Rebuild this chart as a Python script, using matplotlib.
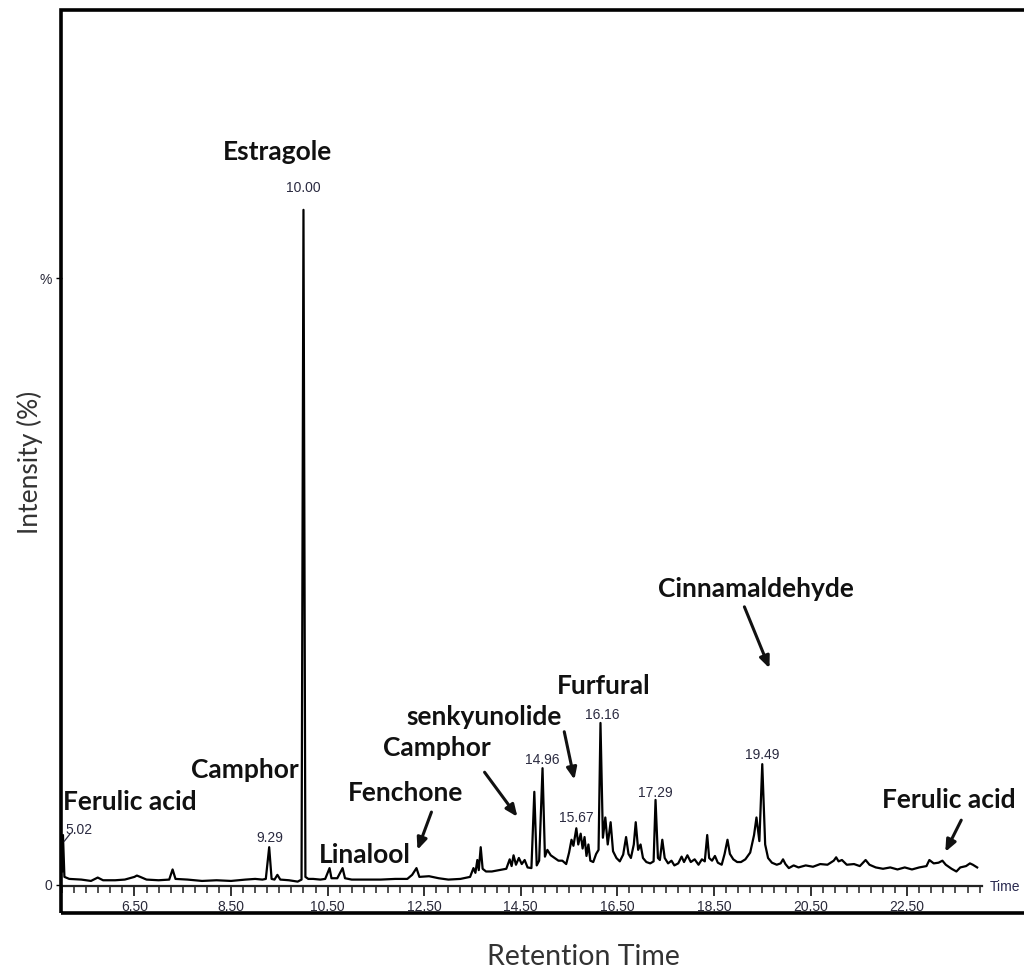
import matplotlib
matplotlib.use("Agg")
import matplotlib.pyplot as plt
from matplotlib.patches import Rectangle
from matplotlib.ticker import MultipleLocator, FixedLocator

# ---------------- data ----------------
time_min = [5.00, 5.02, 5.05, 5.15, 5.40, 5.60, 5.74, 5.85, 6.10, 6.30, 6.50, 6.55, 6.62, 6.75,
            7.00, 7.22, 7.29, 7.35, 7.60, 7.90, 8.20, 8.50, 8.80, 9.00, 9.15, 9.22, 9.29, 9.34,
            9.40, 9.46, 9.52, 9.70, 9.88, 9.96, 10.00, 10.04, 10.10, 10.20, 10.35, 10.45, 10.54,
            10.58, 10.70, 10.81, 10.86, 11.00, 11.30, 11.60, 11.90, 12.15, 12.25, 12.34, 12.40,
            12.60, 12.80, 13.00, 13.25, 13.45, 13.52, 13.56, 13.60, 13.63, 13.67, 13.71, 13.78,
            13.90, 14.05, 14.20, 14.27, 14.31, 14.35, 14.40, 14.46, 14.52, 14.58, 14.64, 14.72,
            14.78, 14.83, 14.88, 14.95, 15.00, 15.05, 15.12, 15.20, 15.28, 15.36, 15.44, 15.50,
            15.55, 15.59, 15.65, 15.69, 15.74, 15.78, 15.82, 15.86, 15.90, 15.94, 16.00, 16.06,
            16.11, 16.15, 16.20, 16.25, 16.30, 16.36, 16.41, 16.48, 16.55, 16.62, 16.68, 16.73,
            16.78, 16.84, 16.88, 16.93, 16.98, 17.03, 17.10, 17.18, 17.25, 17.29, 17.34, 17.38,
            17.43, 17.48, 17.55, 17.62, 17.68, 17.76, 17.83, 17.88, 17.95, 18.02, 18.10, 18.18,
            18.25, 18.31, 18.36, 18.40, 18.46, 18.52, 18.58, 18.66, 18.72, 18.78, 18.83, 18.90,
            18.98, 19.06, 19.15, 19.25, 19.33, 19.38, 19.44, 19.50, 19.56, 19.62, 19.70, 19.80,
            19.88, 19.93, 19.98, 20.05, 20.15, 20.25, 20.40, 20.55, 20.70, 20.85, 20.98, 21.03,
            21.08, 21.15, 21.25, 21.40, 21.52, 21.64, 21.72, 21.85, 22.00, 22.15, 22.30, 22.45,
            22.60, 22.75, 22.90, 22.96, 23.05, 23.15, 23.23, 23.30, 23.42, 23.52, 23.60, 23.72,
            23.80, 23.86, 23.95]
intensity_pct = [2.0, 7.4, 1.2, 0.9, 0.8, 0.6, 1.1, 0.7, 0.7, 0.8, 1.2, 1.4, 1.2, 0.8,
                 0.7, 0.8, 2.3, 0.9, 0.8, 0.6, 0.7, 0.6, 0.8, 0.9, 0.8, 0.9, 5.6, 0.9,
                 0.8, 1.5, 0.8, 0.7, 0.5, 0.8, 100.0, 1.2, 0.9, 0.9, 0.8, 0.9, 2.5,
                 1.0, 1.0, 2.5, 1.0, 0.8, 0.8, 0.8, 0.9, 0.9, 1.5, 2.5, 1.2,
                 1.3, 1.0, 0.8, 0.9, 1.2, 2.5, 1.8, 3.7, 2.2, 5.6, 2.4, 2.0,
                 2.0, 2.2, 2.4, 3.8, 2.8, 4.4, 3.0, 4.0, 3.1, 3.7, 2.6, 2.5,
                 13.8, 2.9, 3.6, 17.3, 4.2, 5.2, 4.4, 4.0, 3.6, 3.6, 3.1, 4.8,
                 6.7, 5.8, 8.4, 6.0, 7.6, 5.4, 7.1, 4.3, 6.0, 3.6, 3.4, 4.6,
                 5.2, 24.0, 7.0, 10.0, 6.0, 9.3, 5.0, 4.0, 3.5, 4.5, 7.1, 4.6,
                 4.0, 6.0, 9.3, 5.2, 6.0, 4.0, 3.4, 3.2, 3.5, 12.6, 4.0, 3.7,
                 6.7, 4.0, 3.2, 3.6, 2.9, 3.2, 4.2, 3.4, 4.4, 3.4, 3.8, 3.0,
                 3.8, 3.5, 7.4, 4.0, 3.6, 4.3, 3.3, 3.0, 4.6, 6.7, 4.6, 3.8,
                 3.4, 3.4, 3.8, 4.8, 7.4, 10.0, 6.5, 17.9, 6.0, 4.0, 3.3, 3.0,
                 3.2, 3.8, 3.1, 2.5, 2.9, 2.6, 2.9, 2.7, 3.1, 3.0, 3.6, 4.1,
                 3.5, 3.7, 3.0, 3.1, 2.8, 3.7, 3.0, 2.6, 2.4, 2.6, 2.3, 2.6,
                 2.3, 2.6, 2.8, 3.7, 3.2, 3.3, 3.6, 3.0, 2.4, 2.0, 2.6, 2.8,
                 3.2, 3.0, 2.6]

# retention-time labels printed above peaks
peak_rt_labels = ["5.02", "9.29", "10.00", "14.96", "15.67", "16.16", "17.29", "19.49"]
peak_label_t = [5.36, 9.30, 10.00, 14.95, 15.65, 16.18, 17.29, 19.50]
peak_label_i = [8.1, 7.0, 103.3, 18.5, 9.9, 25.2, 13.6, 19.3]

# compound names (no arrows)
names_plain = ["Estragole", "Camphor", "Ferulic acid", "Linalool", "Furfural"]
names_plain_t = [9.46, 8.78, 5.03, 11.26, 16.21]
names_plain_i = [108.6, 17.0, 12.3, 4.4, 29.5]
names_plain_ha = ["center", "center", "left", "center", "center"]

# compound names with arrows
names_arrow = ["Fenchone", "Camphor", "senkyunolide", "Cinnamaldehyde", "Ferulic acid"]
names_arrow_t = [12.11, 12.77, 13.73, 19.36, 23.37]
names_arrow_i = [13.6, 20.3, 24.9, 43.9, 12.6]
arrow_start_t = [12.65, 13.75, 15.40, 19.13, 23.62]
arrow_start_i = [10.8, 16.7, 22.7, 41.2, 9.6]
arrow_end_t = [12.36, 14.43, 15.61, 19.65, 23.29]
arrow_end_i = [5.2, 10.1, 15.6, 32.1, 4.9]

major_ticks = [6.5, 8.5, 10.5, 12.5, 14.5, 16.5, 18.5, 20.5, 22.5]
major_labels = ["6.50", "8.50", "10.50", "12.50", "14.50", "16.50", "18.50", "20.50", "22.50"]

# ---------------- figure ----------------
W, H = 1024, 969
fig = plt.figure(figsize=(W / 100, H / 100), dpi=100)

ax = fig.add_axes([62 / W, (H - 886) / H, (982 - 62) / W, (886 - 10) / H])
ax.set_xlim(5.0, 24.05)
ax.set_ylim(-0.15, 129.6)

ax.plot(time_min, intensity_pct, color="black", lw=1.6, solid_joinstyle="round")

for s in ["top", "right"]:
    ax.spines[s].set_visible(False)
ax.spines["left"].set_visible(False)
ax.spines["bottom"].set_linewidth(1.6)
ax.spines["bottom"].set_color("#222222")

ax.xaxis.set_major_locator(FixedLocator(major_ticks))
ax.set_xticklabels(major_labels, fontsize=10, family="Liberation Sans", color="#2a2a3a")
ax.xaxis.set_minor_locator(MultipleLocator(0.25))
ax.tick_params(axis="x", which="major", length=7, width=1.3, color="#222222", pad=3)
ax.tick_params(axis="x", which="minor", length=5, width=1.1, color="#222222")

ax.set_yticks([0, 89.9])
ax.set_yticklabels(["0", "%"], fontsize=10, family="Liberation Sans", color="#2a2a3a")
ax.tick_params(axis="y", length=4, width=1.0, pad=3)

# retention time labels
for lab, t, i in zip(peak_rt_labels, peak_label_t, peak_label_i):
    ax.text(t, i, lab, ha="center", va="center", fontsize=10, family="Liberation Sans",
            color="#2a2a40")
# small slash near 5.02
ax.plot([5.05, 5.17], [6.5, 7.6], color="#2a2a40", lw=0.9)

name_font = dict(family="Lato", fontweight="bold", fontsize=19, color="#111111")
for lab, t, i, ha in zip(names_plain, names_plain_t, names_plain_i, names_plain_ha):
    ax.text(t, i, lab, ha=ha, va="center", **name_font)

for lab, t, i, st, si, et, ei in zip(names_arrow, names_arrow_t, names_arrow_i,
                                     arrow_start_t, arrow_start_i, arrow_end_t, arrow_end_i):
    ax.text(t, i, lab, ha="center", va="center", **name_font)
    ax.annotate("", xy=(et, ei), xytext=(st, si),
                arrowprops=dict(arrowstyle="-|>,head_length=0.7,head_width=0.3",
                                color="#111111", lw=2.2, shrinkA=0, shrinkB=0))

# "Time" label at the axis end
fig.text(990 / W, 1 - 887 / H, "Time", fontsize=10, family="Liberation Sans",
         color="#2a2a50", ha="left", va="center")

# outer frame
fig.patches.append(Rectangle((61 / W, 1 - 913 / H), (1040 - 61) / W, (913 - 10) / H,
                             transform=fig.transFigure, fill=False, lw=2.6,
                             edgecolor="black", clip_on=False))

fig.text(30 / W, 1 - 462 / H, "Intensity (%)", rotation=90, ha="center", va="center",
         family="Lato", fontsize=19, color="#333333")
fig.text(583 / W, 1 - 957 / H, "Retention Time", ha="center", va="center",
         family="Lato", fontsize=20.5, color="#333333")

fig.savefig("out.png", dpi=100)
